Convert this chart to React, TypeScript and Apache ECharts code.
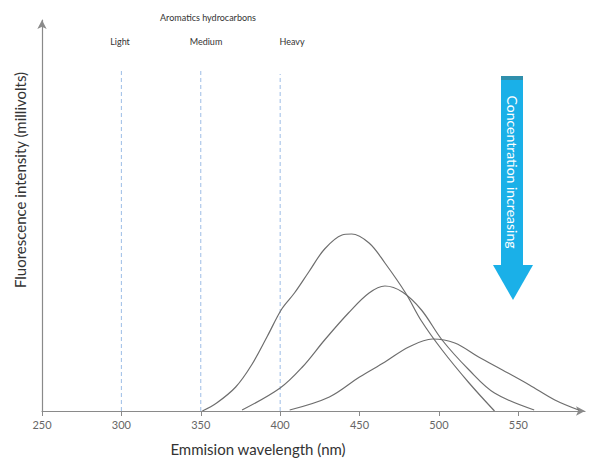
import React, { useEffect, useRef } from "react";
import * as echarts from "echarts";

const xTicks = [250, 300, 350, 400, 450, 500, 550];
const guideWavelengths = [300, 350, 400];
const guideLabels = ["Light", "Medium", "Heavy"];
const guideTops = [342, 342, 337];

const curveHigh: [number, number][] = [
  [351, 0], [360, 8], [372, 24], [382, 46], [392, 75], [401, 102], [409, 118],
  [418, 139], [428, 162], [439, 176], [445, 177], [456, 168], [466, 148],
  [479, 118], [489, 90], [502, 61], [519, 28], [535, 0],
];
const curveMid: [number, number][] = [
  [376, 1], [400, 23], [414, 44], [428, 71], [443, 98], [456, 118], [466, 125],
  [477, 119], [489, 101], [502, 71], [519, 41], [535, 18], [560, 1],
];
const curveLow: [number, number][] = [
  [406, 1], [431, 14], [450, 34], [466, 49], [481, 64], [496, 72], [510, 68],
  [525, 54], [540, 41], [557, 26], [573, 11], [588, 1],
];

const FONT = "Lato, 'Open Sans', sans-serif";

export default function App() {
  const ref = useRef<HTMLDivElement>(null);
  useEffect(() => {
    if (!ref.current) return;
    const chart = echarts.init(ref.current, null, { renderer: "svg" });
    const curveStyle = { color: "#6e6e6e", width: 1.2 };
    const mkCurve = (name: string, data: [number, number][]) => ({
      name,
      type: "line",
      data,
      smooth: 0.35,
      showSymbol: false,
      symbol: "none",
      lineStyle: curveStyle,
      silent: true,
    });
    const guides = guideWavelengths.map((w, i) => ({
      name: guideLabels[i],
      type: "line",
      data: [[w, 0], [w, guideTops[i]]],
      showSymbol: false,
      symbol: "none",
      lineStyle: { color: "#9dbde6", width: 1, type: [4, 3] },
      silent: true,
    }));
    chart.setOption({
      animation: false,
      backgroundColor: "#ffffff",
      grid: { left: 42, right: 8, top: 20, bottom: 53 },
      xAxis: {
        type: "value",
        min: 250,
        max: 592,
        interval: 50,
        axisLine: {
          show: true,
          lineStyle: { color: "#8a8a8a", width: 1.2 },
          symbol: ["none", "arrow"],
          symbolSize: [7, 9],
        },
        axisTick: {
          show: true,
          customValues: xTicks,
          length: 5,
          lineStyle: { color: "#8a8a8a" },
        },
        axisLabel: {
          customValues: xTicks,
          color: "#666",
          fontSize: 11,
          fontFamily: FONT,
          margin: 8,
        },
        splitLine: { show: false },
      },
      yAxis: {
        type: "value",
        min: 0,
        max: 391,
        axisLine: {
          show: true,
          lineStyle: { color: "#8a8a8a", width: 1.2 },
          symbol: ["none", "arrow"],
          symbolSize: [7, 9],
        },
        axisTick: { show: false },
        axisLabel: { show: false },
        splitLine: { show: false },
      },
      series: [
        ...guides,
        mkCurve("High", curveHigh),
        mkCurve("Mid", curveMid),
        mkCurve("Low", curveLow),
      ],
      graphic: [
        {
          type: "text",
          x: 208,
          y: 17,
          style: { text: "Aromatics hydrocarbons", fill: "#333", font: `9px ${FONT}`, align: "center", verticalAlign: "middle" },
        },
        {
          type: "text",
          x: 120,
          y: 41,
          style: { text: "Light", fill: "#333", font: `9px ${FONT}`, align: "center", verticalAlign: "middle" },
        },
        {
          type: "text",
          x: 206,
          y: 41,
          style: { text: "Medium", fill: "#333", font: `9px ${FONT}`, align: "center", verticalAlign: "middle" },
        },
        {
          type: "text",
          x: 292,
          y: 41,
          style: { text: "Heavy", fill: "#333", font: `9px ${FONT}`, align: "center", verticalAlign: "middle" },
        },
        {
          type: "text",
          x: 20,
          y: 180,
          rotation: Math.PI / 2,
          style: { text: "Fluorescence intensity (millivolts)", fill: "#333", font: `15px ${FONT}`, align: "center", verticalAlign: "middle" },
        },
        {
          type: "text",
          x: 258,
          y: 449,
          style: { text: "Emmision wavelength (nm)", fill: "#333", font: `15px ${FONT}`, align: "center", verticalAlign: "middle" },
        },
        {
          type: "group",
          children: [
            { type: "rect", shape: { x: 501, y: 76, width: 22, height: 190 }, style: { fill: "#1ab0e8" } },
            { type: "rect", shape: { x: 501, y: 76, width: 22, height: 4 }, style: { fill: "#2f8fac" } },
            { type: "polygon", shape: { points: [[493, 265], [533, 265], [513, 300]] }, style: { fill: "#1ab0e8" } },
            {
              type: "text",
              x: 512,
              y: 172,
              rotation: -Math.PI / 2,
              style: { text: "Concentration increasing", fill: "#ffffff", font: `14px ${FONT}`, align: "center", verticalAlign: "middle" },
            },
          ],
        },
      ],
    });
    return () => chart.dispose();
  }, []);
  return <div ref={ref} style={{ position: "fixed", left: 0, top: 0, width: 593, height: 464 }} />;
}
